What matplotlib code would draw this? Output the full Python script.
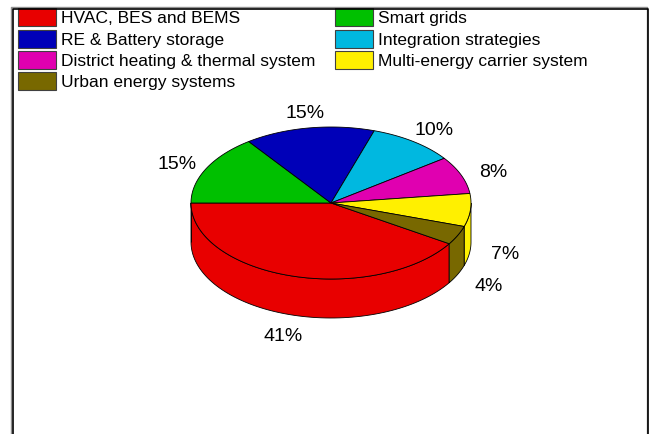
import numpy as np
import matplotlib
matplotlib.use("Agg")
import matplotlib.pyplot as plt
from matplotlib.patches import Polygon, Rectangle

plt.rcParams['font.family'] = ['Liberation Sans', 'DejaVu Sans']

# data (legend order)
labels = ['HVAC, BES and BEMS', 'Smart grids', 'RE & Battery storage',
          'Integration strategies', 'District heating & thermal system',
          'Multi-energy carrier system', 'Urban energy systems']
shares = [41, 15, 15, 10, 8, 7, 4]
colors = ['#e80000', '#00c000', '#0000b8', '#00b8e0', '#e000b0', '#fff000', '#786800']

W, H = 652, 435
fig = plt.figure(figsize=(W / 100, H / 100), dpi=100)
ax = fig.add_axes([0, 0, 1, 1])
ax.set_xlim(0, W)
ax.set_ylim(H, 0)
ax.axis('off')

# pie geometry in pixel units
cx, cy = 331, 204
rx, ry = 140, 76
depth = 39
lab_r = 1.24

# angles: first slice ends at 180 deg, going clockwise
tot = float(sum(shares))
start = 180 + 360 * shares[0] / tot
bounds = []
a = start
for s in shares:
    b = a - 360 * s / tot
    bounds.append((a, b))
    a = b


def pt(t, dz=0):
    r = np.radians(t)
    return cx + rx * np.cos(r), cy - ry * np.sin(r) + dz


# side walls (front half only)
for (a1, a2), c in zip(bounds, colors):
    for off in (0, 360, -360):
        hi = min(a1 + off, 0)
        lo = max(a2 + off, -180)
        if hi > lo:
            ts = np.linspace(hi, lo, 80)
            top = [pt(t) for t in ts]
            bot = [pt(t, depth) for t in ts[::-1]]
            ax.add_patch(Polygon(top + bot, closed=True, facecolor=c,
                                 edgecolor='black', lw=0.6, zorder=2))

# top face
for (a1, a2), c in zip(bounds, colors):
    ts = np.linspace(a1, a2, 120)
    poly = [(cx, cy)] + [pt(t) for t in ts]
    ax.add_patch(Polygon(poly, closed=True, facecolor=c,
                         edgecolor='black', lw=0.6, zorder=3))

# percentage labels
for (a1, a2), s in zip(bounds, shares):
    m = np.radians((a1 + a2) / 2)
    x = cx + lab_r * rx * np.cos(m)
    y = cy - lab_r * ry * np.sin(m) + 3
    if np.sin(m) < 0:
        y += depth
    ax.text(x + 1, y, f'{s}%', fontsize=14, ha='center', va='center', zorder=4)

# legend drawn as in the original (two columns, row-major)
col_x = [18, 335]
row_y = [18, 39.5, 61, 82]
for i, (lab, c) in enumerate(zip(labels, colors)):
    col = i % 2
    row = i // 2
    x0 = col_x[col]
    y0 = row_y[row]
    ax.add_patch(Rectangle((x0, y0 - 9), 38, 18, facecolor=c,
                           edgecolor='#404040', lw=0.8, zorder=4))
    ax.text(x0 + 43, y0 + 0.5, lab, fontsize=12.5, ha='left', va='center', zorder=4)

# outer frame (grey + black double line)
ax.plot([11, 11, 646.5, 646.5], [H + 5, 8, 8, H + 5], color='#909090', lw=1.0,
        zorder=5, clip_on=False)
ax.plot([13, 13, 648, 648], [H + 5, 9.5, 9.5, H + 5], color='black', lw=1.2,
        zorder=5, clip_on=False)

fig.savefig('out.png', dpi=100)
